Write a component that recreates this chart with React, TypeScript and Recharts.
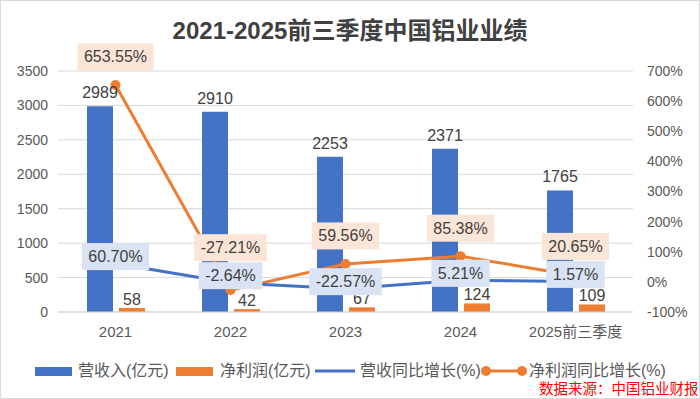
import React from 'react';
import { ComposedChart, Bar, Line, XAxis, YAxis, CartesianGrid, LabelList } from 'recharts';

const periods = ['2021', '2022', '2023', '2024', '2025前三季度'];
const revenue = [2989, 2910, 2253, 2371, 1765];
const netProfit = [58, 42, 67, 124, 109];
const revenueGrowth = [60.7, -2.64, -22.57, 5.21, 1.57];
const profitGrowth = [653.55, -27.21, 59.56, 85.38, 20.65];
const leftTicks = [0, 500, 1000, 1500, 2000, 2500, 3000, 3500];
const rightTicks = [-100, 0, 100, 200, 300, 400, 500, 600, 700];

const data = periods.map((p, i) => ({
  period: p,
  revenue: revenue[i],
  netProfit: netProfit[i],
  revenueGrowth: revenueGrowth[i],
  profitGrowth: profitGrowth[i],
}));

const BLUE = '#4472C4';
const ORANGE = '#ED7D31';
const FONT = '"Liberation Sans", "Noto Sans CJK SC", sans-serif';

const PLOT_TOP = 71;
const PLOT_BOTTOM = 312;
const RIGHT_MIN = -100;
const RIGHT_MAX = 700;
const PX_PER_PCT = (PLOT_BOTTOM - PLOT_TOP) / (RIGHT_MAX - RIGHT_MIN);
const BOX_H = 27;
const BLUE_DY = -7;
const ORANGE_DY = -28;

// rough width of a number string in Liberation Sans
const textWidth = (s: string, size: number) => {
  let w = 0;
  for (const c of s) {
    if (c === '%') w += 0.889;
    else if (c === '.') w += 0.278;
    else if (c === '-') w += 0.333;
    else w += 0.556;
  }
  return w * size;
};

const drawBox = (x: number, cy: number, value: number, fill: string) => {
  const text = `${Number(value).toFixed(2)}%`;
  const w = textWidth(text, 16) + 13;
  return (
    <g>
      <rect x={x - w / 2} y={cy - BOX_H / 2} width={w} height={BOX_H} fill={fill} />
      <text x={x} y={cy} textAnchor="middle" dominantBaseline="central" fontSize={16} fill="#404040">
        {text}
      </text>
    </g>
  );
};

const BlueLabel = (props: any) => {
  const { x, y, value } = props;
  return drawBox(x, y + BLUE_DY, value, '#DAE3F3');
};

// orange labels sit above the point; pushed up if they would hit the blue label
const OrangeLabel = (props: any) => {
  const { x, y, value, index } = props;
  let cy = y + ORANGE_DY;
  const blueCy = y + (profitGrowth[index] - revenueGrowth[index]) * PX_PER_PCT + BLUE_DY;
  if (Math.abs(cy - blueCy) < BOX_H) cy = Math.min(cy, blueCy - BOX_H - 1);
  return drawBox(x, cy, value, '#FBE5D6');
};

const legendText: React.CSSProperties = {
  position: 'absolute',
  top: 2,
  fontSize: 16,
  color: '#595959',
  lineHeight: '16px',
  whiteSpace: 'nowrap',
};

const App: React.FC = () => {
  return (
    <div style={{ position: 'absolute', left: 0, top: 0, width: 700, height: 399, background: '#fff', fontFamily: FONT }}>
      <div
        style={{
          position: 'absolute',
          left: 0,
          top: 16,
          width: 700,
          textAlign: 'center',
          fontSize: 24,
          fontWeight: 'bold',
          color: '#404040',
          lineHeight: '30px',
        }}
      >
        2021-2025前三季度中国铝业业绩
      </div>
      <ComposedChart
        width={700}
        height={399}
        data={data}
        margin={{ top: PLOT_TOP, right: 0, left: 0, bottom: 0 }}
        barGap={6}
        style={{ position: 'absolute', left: 0, top: 0 }}
      >
        <CartesianGrid yAxisId="left" vertical={false} stroke="#d9d9d9" />
        <XAxis
          dataKey="period"
          interval={0}
          height={399 - PLOT_BOTTOM}
          axisLine={{ stroke: '#d9d9d9' }}
          tickLine={false}
          tickMargin={8}
          tick={{ fontSize: 15, fill: '#595959' }}
        />
        <YAxis
          yAxisId="left"
          domain={[0, 3500]}
          ticks={leftTicks}
          width={58}
          axisLine={false}
          tickLine={false}
          tickMargin={4}
          tick={{ fontSize: 14, fill: '#595959' }}
        />
        <YAxis
          yAxisId="right"
          orientation="right"
          domain={[RIGHT_MIN, RIGHT_MAX]}
          ticks={rightTicks}
          width={67}
          axisLine={false}
          tickLine={false}
          tickMargin={8}
          tickFormatter={(v: number) => `${v}%`}
          tick={{ fontSize: 14, fill: '#595959', textAnchor: 'start' }}
        />
        <Bar yAxisId="left" dataKey="revenue" fill={BLUE} barSize={26} isAnimationActive={false}>
          <LabelList dataKey="revenue" position="top" offset={8} fontSize={16} fill="#404040" />
        </Bar>
        <Bar yAxisId="left" dataKey="netProfit" fill={ORANGE} barSize={26} isAnimationActive={false}>
          <LabelList dataKey="netProfit" position="top" offset={3} fontSize={16} fill="#404040" />
        </Bar>
        <Line
          yAxisId="right"
          type="linear"
          dataKey="profitGrowth"
          stroke={ORANGE}
          strokeWidth={3}
          dot={{ r: 5, fill: ORANGE, stroke: 'none' }}
          isAnimationActive={false}
        >
          <LabelList dataKey="profitGrowth" content={OrangeLabel} />
        </Line>
        <Line
          yAxisId="right"
          type="linear"
          dataKey="revenueGrowth"
          stroke={BLUE}
          strokeWidth={3}
          dot={false}
          isAnimationActive={false}
        >
          <LabelList dataKey="revenueGrowth" content={BlueLabel} />
        </Line>
      </ComposedChart>

      {/* legend */}
      <div style={{ position: 'absolute', left: 0, top: 361, width: 700, height: 20 }}>
        <svg width={700} height={20} style={{ position: 'absolute', left: 0, top: 0 }}>
          <rect x={35} y={6} width={37} height={9} fill={BLUE} />
          <rect x={176} y={6} width={37} height={9} fill={ORANGE} />
          <line x1={315} x2={355} y1={10} y2={10} stroke={BLUE} strokeWidth={3} />
          <line x1={484} x2={524} y1={10} y2={10} stroke={ORANGE} strokeWidth={3} />
          <circle cx={486} cy={10} r={5} fill={ORANGE} />
          <circle cx={522} cy={10} r={5} fill={ORANGE} />
        </svg>
        <span style={{ ...legendText, left: 78 }}>营收入(亿元)</span>
        <span style={{ ...legendText, left: 220 }}>净利润(亿元)</span>
        <span style={{ ...legendText, left: 360 }}>营收同比增长(%)</span>
        <span style={{ ...legendText, left: 529 }}>净利润同比增长(%)</span>
      </div>
      <div
        style={{
          position: 'absolute',
          left: 539,
          top: 382,
          fontSize: 14.5,
          color: '#FF0000',
          lineHeight: '15px',
          whiteSpace: 'nowrap',
        }}
      >
        数据来源：中国铝业财报
      </div>
      <div
        style={{
          position: 'absolute',
          left: 0,
          top: 0,
          width: 700,
          height: 399,
          boxSizing: 'border-box',
          border: '1px solid #d9d9d9',
          pointerEvents: 'none',
        }}
      />
    </div>
  );
};

export default App;
